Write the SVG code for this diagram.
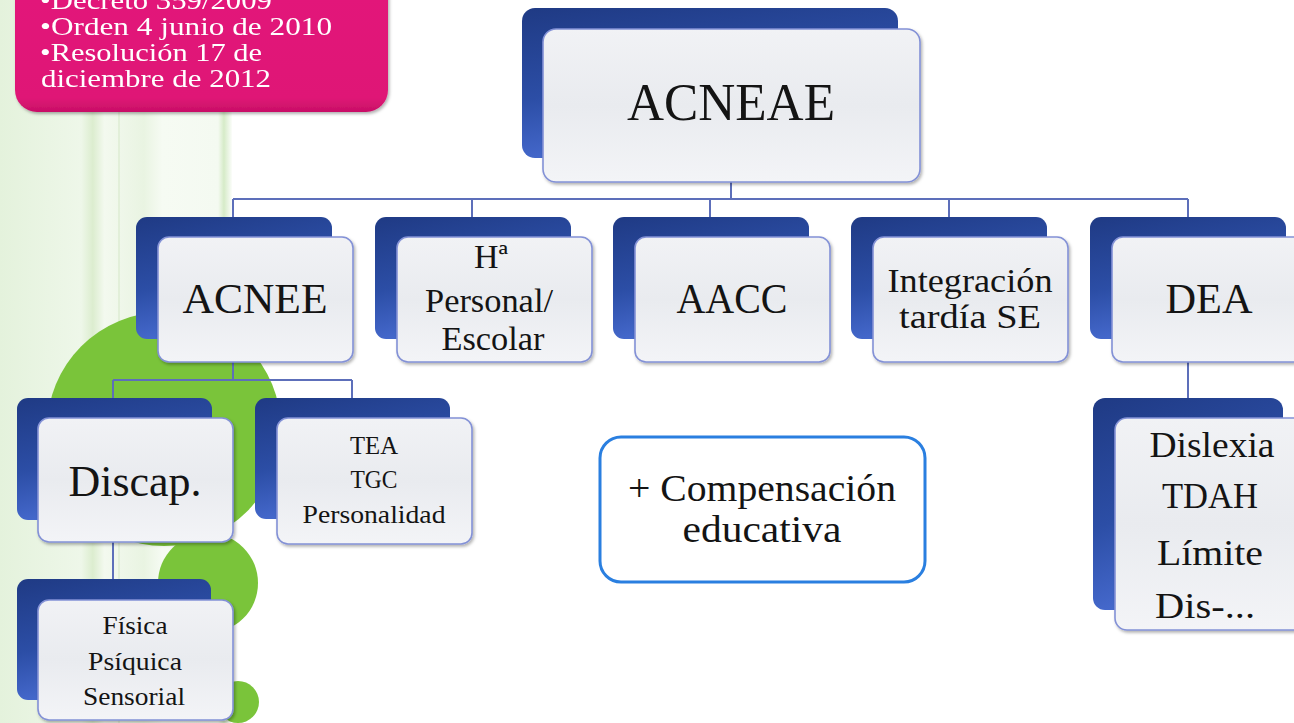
<svg xmlns="http://www.w3.org/2000/svg" width="1294" height="723" viewBox="0 0 1294 723">
<defs>
<linearGradient id="gShadow" x1="0" y1="0" x2="0.35" y2="1">
<stop offset="0" stop-color="#1f3a84"/>
<stop offset="0.55" stop-color="#2c4ea6"/>
<stop offset="1" stop-color="#4a6ed4"/>
</linearGradient>
<linearGradient id="gFront" x1="0" y1="0" x2="0" y2="1">
<stop offset="0" stop-color="#f1f2f5"/>
<stop offset="0.5" stop-color="#e9ebef"/>
<stop offset="1" stop-color="#f3f4f7"/>
</linearGradient>
<linearGradient id="gPink" x1="0" y1="0" x2="0" y2="1">
<stop offset="0" stop-color="#e3197b"/>
<stop offset="0.9" stop-color="#df1676"/>
<stop offset="1" stop-color="#c80f66"/>
</linearGradient>
<linearGradient id="gBg" x1="0" y1="0" x2="1" y2="0">
<stop offset="0" stop-color="#e4f2dc"/>
<stop offset="0.35" stop-color="#eef7e9"/>
<stop offset="0.4" stop-color="#dcedcf"/>
<stop offset="0.45" stop-color="#f3f9ef"/>
<stop offset="0.62" stop-color="#e9f4e2"/>
<stop offset="0.7" stop-color="#f6fbf3"/>
<stop offset="0.94" stop-color="#f4faf1"/>
<stop offset="0.965" stop-color="#d6ebc8"/>
<stop offset="1" stop-color="#fbfdfa"/>
</linearGradient>
<filter id="ds" x="-10%" y="-10%" width="125%" height="130%">
<feDropShadow dx="1.5" dy="2" stdDeviation="1.5" flood-color="#000" flood-opacity="0.3"/>
</filter>
</defs>
<style>
.sh{fill:url(#gShadow)}
.fr{fill:url(#gFront);stroke:#8391d6;stroke-width:1.6;filter:url(#ds)}
.t{fill:#141414;text-anchor:middle;font-family:'Liberation Serif','Times New Roman',serif}
.w{fill:#ffffff;font-size:25px;font-family:'Liberation Serif','Times New Roman',serif}
.conn{stroke:#5d6fba;stroke-width:2;fill:none}
.dot{fill:#7ac43a}
</style>
<rect x="0" y="0" width="1294" height="723" fill="#ffffff"/>
<g id="background">
<rect x="0" y="0" width="232" height="723" fill="url(#gBg)"/>
<rect x="118" y="100" width="2" height="623" fill="#e2efd9"/>
<circle class="dot" cx="164" cy="429" r="117"/>
<circle class="dot" cx="208" cy="583" r="50"/>
<circle class="dot" cx="238" cy="702" r="21"/>
</g>
<g id="note" filter="url(#ds)">
<rect x="15" y="-30" width="373" height="142" rx="22" fill="url(#gPink)"/>
<text class="w" x="40" y="9" textLength="232" lengthAdjust="spacingAndGlyphs">•Decreto 359/2009</text>
<text class="w" x="40" y="35" textLength="292" lengthAdjust="spacingAndGlyphs">•Orden 4 junio de 2010</text>
<text class="w" x="40" y="61" textLength="222" lengthAdjust="spacingAndGlyphs">•Resolución 17 de</text>
<text class="w" x="41" y="87" textLength="230" lengthAdjust="spacingAndGlyphs">diciembre de 2012</text>
</g>
<g id="connectors">
<path class="conn" d="M731 182 V199 M233 199 H1188 M233 199 V217 M472 199 V217 M710 199 V217 M949 199 V217 M1188 199 V217"/>
<path class="conn" d="M233 362 V380 M113 380 H352 M113 380 V398 M352 380 V398"/>
<path class="conn" d="M113 542 V579"/>
<path class="conn" d="M1188 362 V398"/>
</g>
<g id="acneae">
<rect class="sh" x="522" y="8" width="376" height="150" rx="13"/>
<rect class="fr" x="543" y="29" width="377" height="153" rx="13"/>
<text class="t" x="731" y="120" font-size="52" textLength="208" lengthAdjust="spacingAndGlyphs">ACNEAE</text>
</g>
<g id="acnee">
<rect class="sh" x="136" y="217" width="196" height="122" rx="11"/>
<rect class="fr" x="158" y="237" width="195" height="125" rx="11"/>
<text class="t" x="255" y="313" font-size="42" textLength="145" lengthAdjust="spacingAndGlyphs">ACNEE</text>
</g>
<g id="historia">
<rect class="sh" x="375" y="217" width="196" height="122" rx="11"/>
<rect class="fr" x="397" y="237" width="195" height="125" rx="11"/>
<text class="t" x="491" y="268" font-size="34">Hª</text>
<text class="t" x="489" y="312" font-size="34" textLength="128" lengthAdjust="spacingAndGlyphs">Personal/</text>
<text class="t" x="493" y="350" font-size="34" textLength="103" lengthAdjust="spacingAndGlyphs">Escolar</text>
</g>
<g id="aacc">
<rect class="sh" x="613" y="217" width="196" height="122" rx="11"/>
<rect class="fr" x="635" y="237" width="195" height="125" rx="11"/>
<text class="t" x="732" y="313" font-size="42" textLength="111" lengthAdjust="spacingAndGlyphs">AACC</text>
</g>
<g id="integracion">
<rect class="sh" x="851" y="217" width="196" height="122" rx="11"/>
<rect class="fr" x="873" y="237" width="195" height="125" rx="11"/>
<text class="t" x="970" y="292" font-size="34" textLength="165" lengthAdjust="spacingAndGlyphs">Integración</text>
<text class="t" x="970" y="328" font-size="34" textLength="142" lengthAdjust="spacingAndGlyphs">tardía SE</text>
</g>
<g id="dea">
<rect class="sh" x="1090" y="217" width="196" height="122" rx="11"/>
<rect class="fr" x="1112" y="237" width="195" height="125" rx="11"/>
<text class="t" x="1209" y="313" font-size="42" textLength="87" lengthAdjust="spacingAndGlyphs">DEA</text>
</g>
<g id="discap">
<rect class="sh" x="17" y="398" width="195" height="122" rx="11"/>
<rect class="fr" x="38" y="418" width="195" height="124" rx="11"/>
<text class="t" x="135" y="496" font-size="44" textLength="133" lengthAdjust="spacingAndGlyphs">Discap.</text>
</g>
<g id="tea">
<rect class="sh" x="255" y="398" width="195" height="121" rx="11"/>
<rect class="fr" x="277" y="418" width="195" height="126" rx="11"/>
<text class="t" x="374" y="454" font-size="26" textLength="48" lengthAdjust="spacingAndGlyphs">TEA</text>
<text class="t" x="374" y="488" font-size="26" textLength="47" lengthAdjust="spacingAndGlyphs">TGC</text>
<text class="t" x="374" y="523" font-size="26" textLength="143" lengthAdjust="spacingAndGlyphs">Personalidad</text>
</g>
<g id="fisica">
<rect class="sh" x="17" y="579" width="194" height="121" rx="11"/>
<rect class="fr" x="38" y="600" width="195" height="120" rx="11"/>
<text class="t" x="135" y="634" font-size="26" textLength="65" lengthAdjust="spacingAndGlyphs">Física</text>
<text class="t" x="135" y="670" font-size="26" textLength="94" lengthAdjust="spacingAndGlyphs">Psíquica</text>
<text class="t" x="134" y="705" font-size="26" textLength="102" lengthAdjust="spacingAndGlyphs">Sensorial</text>
</g>
<g id="dislexia">
<rect class="sh" x="1093" y="398" width="190" height="212" rx="12"/>
<rect class="fr" x="1115" y="418" width="195" height="212" rx="12"/>
<text class="t" x="1212" y="457" font-size="35" textLength="125" lengthAdjust="spacingAndGlyphs">Dislexia</text>
<text class="t" x="1210" y="508" font-size="35" textLength="96" lengthAdjust="spacingAndGlyphs">TDAH</text>
<text class="t" x="1210" y="565" font-size="35" textLength="106" lengthAdjust="spacingAndGlyphs">Límite</text>
<text class="t" x="1205" y="618" font-size="35" textLength="100" lengthAdjust="spacingAndGlyphs">Dis-...</text>
</g>
<g id="compensacion">
<rect x="600" y="437" width="325" height="145" rx="21" fill="#ffffff" stroke="#2a7fe0" stroke-width="3"/>
<text class="t" x="762" y="501" font-size="38" textLength="268" lengthAdjust="spacingAndGlyphs">+ Compensación</text>
<text class="t" x="762" y="542" font-size="38" textLength="159" lengthAdjust="spacingAndGlyphs">educativa</text>
</g>
</svg>
